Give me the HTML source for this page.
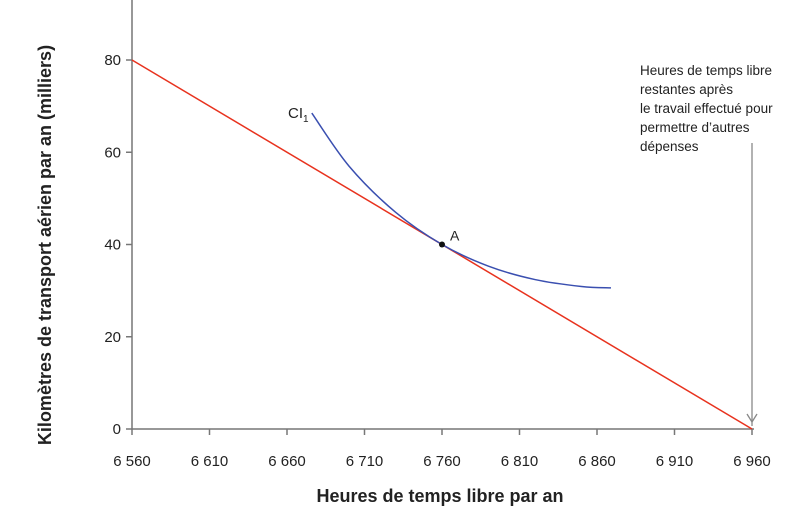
<!DOCTYPE html>
<html><head><meta charset="utf-8"><style>
body{margin:0;background:#fff;font-family:"Liberation Sans",sans-serif}
svg text{font-family:"Liberation Sans",sans-serif;fill:#222}
</style></head><body>
<svg width="810" height="511" viewBox="0 0 810 511">
<g id="ticks"></g>
<line x1="132" y1="0" x2="132" y2="429" stroke="#777" stroke-width="1.5"/>
<line x1="132" y1="429" x2="754" y2="429" stroke="#777" stroke-width="1.5"/>
<path id="budget" fill="none" stroke="#e8321e" stroke-width="1.5"/>
<path id="ic" fill="none" stroke="#3a4fb0" stroke-width="1.5"/>
<circle id="pa" r="3" fill="#111"/>
<text id="la" font-size="14">A</text>
<text x="288" y="118" font-size="15">CI<tspan font-size="10" dy="4">1</tspan></text>
<line x1="752" y1="143" x2="752" y2="426" stroke="#888" stroke-width="1.3"/>
<polyline points="747,414 752,422 757,414" fill="none" stroke="#888" stroke-width="1.3"/>
<text font-size="13.5"><tspan x="640" y="75">Heures de temps libre</tspan><tspan x="640" y="94">restantes après</tspan><tspan x="640" y="113">le travail effectué pour</tspan><tspan x="640" y="132">permettre d’autres</tspan><tspan x="640" y="151">dépenses</tspan></text>
<text x="440" y="502" font-size="18" font-weight="bold" text-anchor="middle">Heures de temps libre par an</text>
<text transform="translate(51,245) rotate(-90)" font-size="18" font-weight="bold" text-anchor="middle">Kilomètres de transport aérien par an (milliers)</text>
</svg>
<script>
const xTicks=[6560,6610,6660,6710,6760,6810,6860,6910,6960];
const yTicks=[0,20,40,60,80];
const budgetX=[6560,6960];
const budgetY=[80,0];
const icX=[6676,6700,6730,6760,6790,6820,6850,6869];
const icY=[68.5,57,47,40,35.3,32.4,30.9,30.6];
const pointA=[6760,40];
const sx=v=>132+(v-6560)*1.55;
const sy=v=>429-v*4.6125;
const NS="http://www.w3.org/2000/svg";
const g=document.getElementById('ticks');
xTicks.forEach(t=>{
 const l=document.createElementNS(NS,'line');
 l.setAttribute('x1',sx(t));l.setAttribute('x2',sx(t));l.setAttribute('y1',429);l.setAttribute('y2',435);
 l.setAttribute('stroke','#777');l.setAttribute('stroke-width','1.5');
 
 
 g.appendChild(l);
 const tx=document.createElementNS(NS,'text');
 tx.setAttribute('x',sx(t));tx.setAttribute('y',466);tx.setAttribute('text-anchor','middle');tx.setAttribute('font-size','15');
 tx.textContent=String(t).replace(/(\d)(\d{3})$/,'$1 $2');
 
 
 g.appendChild(tx);
});
yTicks.forEach(t=>{
 const l=document.createElementNS(NS,'line');
 l.setAttribute('x1',126);l.setAttribute('x2',132);l.setAttribute('y1',sy(t));l.setAttribute('y2',sy(t));
 l.setAttribute('stroke','#777');l.setAttribute('stroke-width','1.5');
 
 
 g.appendChild(l);
 const tx=document.createElementNS(NS,'text');
 tx.setAttribute('x',121);tx.setAttribute('y',sy(t)+5);tx.setAttribute('text-anchor','end');tx.setAttribute('font-size','15');
 tx.textContent=t;
 
 
 g.appendChild(tx);
});
document.getElementById('budget').setAttribute('d',budgetX.map((x,i)=>(i?'L':'M')+sx(x)+','+sy(budgetY[i])).join(''));
const P=icX.map((x,i)=>[sx(x),sy(icY[i])]);
let d='M'+P[0][0]+','+P[0][1];
for(let i=0;i<P.length-1;i++){
 const p0=P[i-1]||P[i],p1=P[i],p2=P[i+1],p3=P[i+2]||P[i+1];
 d+='C'+(p1[0]+(p2[0]-p0[0])/6)+','+(p1[1]+(p2[1]-p0[1])/6)+' '+(p2[0]-(p3[0]-p1[0])/6)+','+(p2[1]-(p3[1]-p1[1])/6)+' '+p2[0]+','+p2[1];
}
document.getElementById('ic').setAttribute('d',d);
const pa=document.getElementById('pa');
pa.setAttribute('cx',sx(pointA[0]));pa.setAttribute('cy',sy(pointA[1]));
const la=document.getElementById('la');
la.setAttribute('x',sx(pointA[0])+8);la.setAttribute('y',sy(pointA[1])-4);
</script>
</body></html>
